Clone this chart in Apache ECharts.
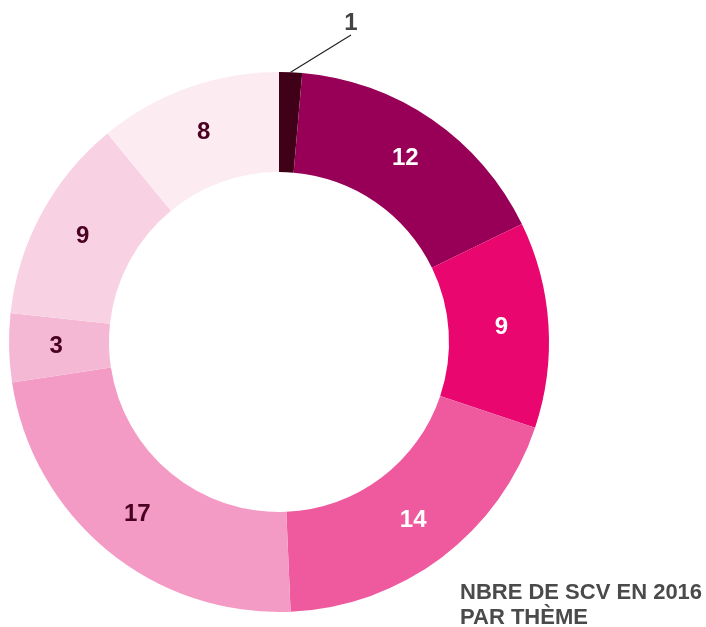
<!DOCTYPE html>
<html>
<head>
<meta charset="utf-8">
<script src="https://cdn.jsdelivr.net/npm/echarts@6/dist/echarts.min.js"></script>
<style>
  html, body { margin: 0; padding: 0; background: #fff; }
  #chart { width: 706px; height: 627px; }
</style>
</head>
<body>
<div id="chart"></div>
<script>
// nombre de SCV par thème (ordre horaire depuis le haut)
var values = [1, 12, 9, 14, 17, 3, 9, 8];
var colors = ['#400018', '#970056', '#e9066f', '#ef5a9f', '#f39bc4', '#f4b8d5', '#f8d2e3', '#fdebf2'];
var labelColors = ['#444', '#fff', '#fff', '#fff', '#4a0022', '#4a0022', '#4a0022', '#4a0022'];
var titleLines = ['NBRE DE SCV EN 2016', 'PAR THÈME'];

var chart = echarts.init(document.getElementById('chart'));

var data = values.map(function (v, i) {
  var item = {
    value: v,
    itemStyle: { color: colors[i] },
    label: { color: labelColors[i] }
  };
  if (i === 0) {
    // petite tranche : étiquette à l'extérieur avec trait
    item.label = {
      show: true,
      position: 'outside',
      color: '#444',
      fontSize: 24,
      padding: [0, 0, 4, 10]
    };
    item.labelLine = { show: true, length: 20, length2: 0, lineStyle: { color: '#222', width: 1.2 } };
  }
  return item;
});

chart.setOption({
  animation: false,
  title: {
    text: titleLines.join('\n'),
    left: 455,
    top: 575,
    textStyle: {
      fontFamily: 'Liberation Sans',
      fontWeight: 'bold',
      fontSize: 22,
      lineHeight: 25,
      color: '#4a4a4a'
    }
  },
  series: [{
    type: 'pie',
    center: [279, 342],
    radius: [170, 270],
    startAngle: 90,
    clockwise: true,
    avoidLabelOverlap: false,
    label: {
      show: true,
      position: 'inside',
      fontFamily: 'Liberation Sans',
      fontWeight: 'bold',
      fontSize: 24,
      formatter: '{c}'
    },
    labelLine: { show: false },
    labelLayout: function (params) {
      if (params.dataIndex === 0) {
        return { x: 346, y: 23, align: 'center', verticalAlign: 'middle' };
      }
    },
    itemStyle: { borderWidth: 0 },
    emphasis: { disabled: true },
    data: data
  }]
});
</script>
</body>
</html>
